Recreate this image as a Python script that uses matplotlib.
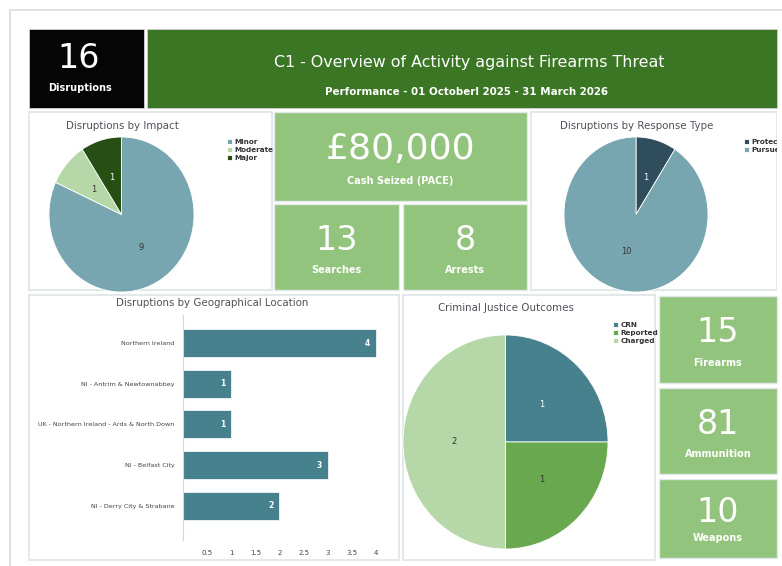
import matplotlib.pyplot as plt
from matplotlib.patches import Rectangle

W, H = 782, 566

# ---- data ----
header_title = 'C1 - Overview of Activity against Firearms Threat'
header_sub = 'Performance - 01 Octoberl 2025 - 31 March 2026'
disruptions_total = 16

impact_labels = ['Minor', 'Moderate', 'Major']
impact_values = [9, 1, 1]

response_labels = ['Protect', 'Pursue']
response_values = [1, 10]

geo_labels = ['Northern Ireland', 'NI - Antrim & Newtownabbey',
              'UK - Northern Ireland - Ards & North Down', 'NI - Belfast City',
              'NI - Derry City & Strabane']
geo_values = [4, 1, 1, 3, 2]
geo_ticks = [0.5, 1, 1.5, 2, 2.5, 3, 3.5, 4]
geo_tick_labels = ['0.5', '1', '1.5', '2', '2.5', '3', '3.5', '4']

cjo_labels = ['CRN', 'Reported', 'Charged']
cjo_values = [1, 1, 2]

kpi_values = ['£80,000', '13', '8', '15', '81', '10']
kpi_names = ['Cash Seized (PACE)', 'Searches', 'Arrests', 'Firearms', 'Ammunition', 'Weapons']

# ---- colours ----
dark_green = '#3b7625'
kpi_green = '#93c47d'
teal_light = '#77a6b0'
teal = '#47818d'
title_grey = '#50505c'
border = '#e3e8ea'


def box(x0, y0, x1, y1):
    return [x0 / W, 1 - y1 / H, (x1 - x0) / W, (y1 - y0) / H]


def rect(fig, x0, y0, x1, y1, fc, ec='none', lw=1, z=0):
    fig.add_artist(Rectangle((x0 / W, 1 - y1 / H), (x1 - x0) / W, (y1 - y0) / H,
                             transform=fig.transFigure, facecolor=fc, edgecolor=ec,
                             linewidth=lw, zorder=z))


def ftext(fig, x, y, s, **kw):
    kw.setdefault('ha', 'center')
    kw.setdefault('va', 'center')
    fig.text(x / W, 1 - y / H, s, **kw)


fig = plt.figure(figsize=(7.82, 5.66), dpi=100)
fig.patch.set_facecolor('white')

# page frame
rect(fig, 10, 10, 790, 580, 'white', ec='#dcdcdc', lw=1.2)

# header
rect(fig, 29, 29, 144, 108, '#050505', ec='#cfcfcf', lw=0.6, z=1)
rect(fig, 147, 29, 777, 108, dark_green, ec='#cfcfcf', lw=0.6, z=1)
ftext(fig, 79, 58, str(disruptions_total), color='white', fontsize=24, zorder=2)
ftext(fig, 80, 88, 'Disruptions', color='white', fontsize=7, weight='bold', zorder=2)
ftext(fig, 469, 62, header_title, color='white', fontsize=11.4, zorder=2)
ftext(fig, 466, 92, header_sub, color='white', fontsize=7.4, weight='bold', zorder=2)

# white panels
for p in [(29, 112, 272, 290), (531, 112, 777, 290), (29, 295, 399, 560), (403, 295, 655, 560)]:
    rect(fig, *p, 'white', ec=border, lw=1.5, z=1)

# KPI tiles
kpi_boxes = [(274, 112, 527, 201), (274, 204, 399, 290), (403, 204, 527, 290),
             (659, 296, 777, 383), (659, 388, 777, 474), (659, 479, 777, 558)]
kpi_sizes = [26, 24, 24, 24, 24, 24]
for (x0, y0, x1, y1), val, name, fs in zip(kpi_boxes, kpi_values, kpi_names, kpi_sizes):
    rect(fig, x0, y0, x1, y1, kpi_green, ec=border, lw=1, z=1)
    cx = (x0 + x1) / 2
    ftext(fig, cx, y0 + (y1 - y0) * 0.42, val, color='white', fontsize=fs, zorder=2)
    ftext(fig, cx, y1 - 20, name, color='white', fontsize=7, weight='bold', zorder=2)


def pie_panel(bbox, values, labels, colors, text_colors, leg_xy, title, title_xy):
    ax = fig.add_axes(box(*bbox))
    ax.set_zorder(3)
    total = sum(values)
    wedges, _, texts = ax.pie(values, colors=colors, startangle=90, counterclock=False,
                              autopct=lambda p: f'{round(p * total / 100)}', pctdistance=0.5,
                              wedgeprops=dict(linewidth=0.6, edgecolor='white'),
                              textprops=dict(fontsize=6))
    for t, c in zip(texts, text_colors):
        t.set_color(c)
    ax.set_aspect('auto')
    ax.set_xlim(-1, 1)
    ax.set_ylim(-1, 1)
    ax.legend(wedges, labels, loc='upper left', bbox_to_anchor=(leg_xy[0] / W, 1 - leg_xy[1] / H),
              bbox_transform=fig.transFigure, frameon=False, prop=dict(size=5.2, weight='bold'),
              handlelength=0.7, handleheight=0.7, handletextpad=0.35, labelspacing=0.25,
              labelcolor='#333333', borderpad=0, borderaxespad=0)
    ftext(fig, title_xy[0], title_xy[1], title, color=title_grey, fontsize=7.4, zorder=4)
    return ax


pie_panel((49, 137, 194, 292), impact_values, impact_labels,
          [teal_light, '#b6d7a8', '#274e13'], ['#333333', '#333333', 'white'],
          (227, 139), 'Disruptions by Impact', (122, 126))
pie_panel((564, 137, 708, 292), response_values, response_labels,
          ['#2f4d5c', teal_light], ['white', '#333333'],
          (744, 139), 'Disruptions by Response Type', (637, 126))
pie_panel((403, 335, 608, 549), cjo_values, cjo_labels,
          [teal, '#6aa84f', '#b6d7a8'], ['white', '#333333', '#333333'],
          (613, 322), 'Criminal Justice Outcomes', (506, 308))

# clip legend of response panel at the panel edge
rect(fig, 777, 110, 790, 292, 'white', z=10)

# bar chart
ax = fig.add_axes(box(183, 315, 398, 540))
ax.set_zorder(3)
pos = list(range(len(geo_values)))
ax.barh(pos, geo_values, height=0.69, color=teal, edgecolor='white', linewidth=0.5)
for i, v in zip(pos, geo_values):
    ax.text(v - 0.17, i, str(v), ha='center', va='center', color='white', fontsize=5.5,
            weight='bold')
ax.set_ylim(len(geo_values) - 0.16, -0.69)
ax.set_xlim(0, 4.46)
ax.set_yticks(pos)
ax.set_yticklabels(geo_labels, fontsize=4.6, color='#444444')
ax.set_xticks(geo_ticks)
ax.set_xticklabels(geo_tick_labels, fontsize=5, color='#444444')
ax.tick_params(axis='y', length=0, pad=6)
ax.tick_params(axis='x', length=0, pad=7)
for s in ['top', 'right', 'bottom']:
    ax.spines[s].set_visible(False)
ax.spines['left'].set_color('#d8d8d8')
ax.set_facecolor('white')
ftext(fig, 212, 303, 'Disruptions by Geographical Location', color=title_grey, fontsize=7.4, zorder=4)

fig.savefig('out.png', dpi=100)
